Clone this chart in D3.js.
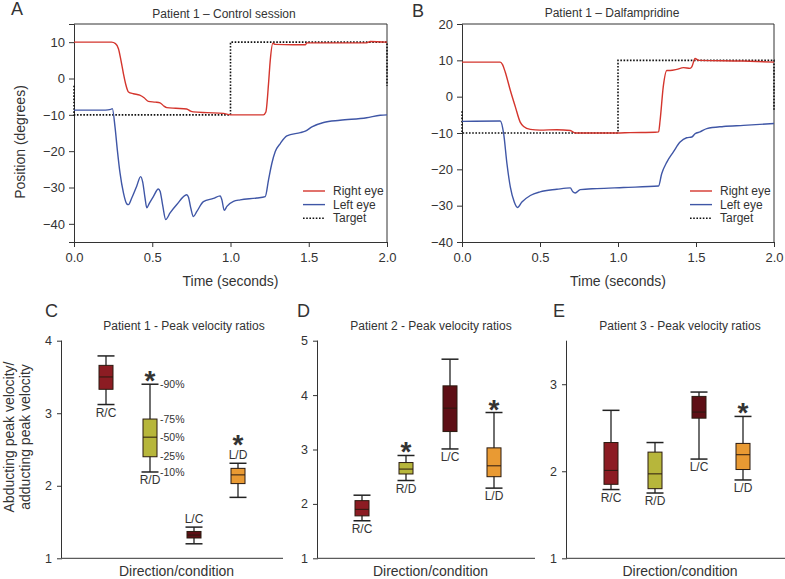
<!DOCTYPE html>
<html>
<head>
<meta charset="utf-8">
<script src="https://cdn.jsdelivr.net/npm/d3@7"></script>
<style>
  body { margin: 0; background: #fff; }
  svg { display: block; }
  text { font-family: "Liberation Sans", Arial, sans-serif; fill: #333; }
</style>
</head>
<body>
<svg id="chart" width="785" height="579"></svg>
<script>
// ---------------- DATA ----------------
// Panel A: Patient 1 – Control session  [time (s), position (deg)]
const ctrlRight = [[0,10],[0.24,10],[0.265,9.6],[0.284,8.2],[0.30,5],[0.316,1.3],[0.33,-1.5],[0.348,-3.7],[0.38,-4.2],[0.42,-4.6],[0.448,-5.3],[0.475,-6.3],[0.52,-6.5],[0.55,-6.7],[0.575,-7.6],[0.593,-8],[0.65,-8.2],[0.72,-8.4],[0.745,-9],[0.763,-9.2],[0.85,-9.4],[0.955,-9.6],[1.0,-10],[1.1,-10],[1.21,-10],[1.226,-9.2],[1.243,-1.4],[1.254,5],[1.271,9.7],[1.286,9.4],[1.40,9.3],[1.478,9.3],[1.488,9.8],[1.7,9.8],[1.87,9.8],[1.893,10.2],[2.0,10]];
const ctrlLeft = [[0,-8.7],[0.2,-8.7],[0.235,-8.5],[0.245,-8.3],[0.262,-13.3],[0.277,-19.7],[0.294,-26],[0.316,-31.5],[0.337,-34.5],[0.348,-34.7],[0.369,-32.9],[0.40,-29.7],[0.426,-27],[0.439,-28.5],[0.454,-32.9],[0.465,-35.6],[0.482,-34.3],[0.507,-32.5],[0.539,-30.4],[0.55,-31],[0.567,-35],[0.586,-38.8],[0.614,-37],[0.657,-34.7],[0.72,-32],[0.731,-32.6],[0.746,-35.6],[0.763,-38],[0.785,-36.6],[0.827,-33.9],[0.891,-33],[0.934,-32.3],[0.945,-33.4],[0.96,-36.3],[0.977,-35.2],[1.019,-33.8],[1.062,-33.4],[1.168,-32.9],[1.222,-32.5],[1.243,-27.9],[1.264,-23.4],[1.286,-20.1],[1.318,-17.9],[1.36,-15.8],[1.446,-14.9],[1.478,-14.5],[1.52,-13.3],[1.595,-12.1],[1.7,-11.5],[1.87,-10.8],[1.957,-10.1],[2.0,-10]];
const ctrlTarget = [[0,-2],[0,-10],[1,-10],[1,10],[2,10],[2,-2]];

// Panel B: Patient 1 – Dalfampridine
const dalfRight = [[0,9.5],[0.245,9.5],[0.26,8.8],[0.277,6.8],[0.31,1.7],[0.342,-2.8],[0.373,-7],[0.395,-8.2],[0.438,-9],[0.5,-9.2],[0.608,-9.1],[0.694,-9.3],[0.726,-10],[0.822,-10],[0.99,-10],[1.078,-9.9],[1.238,-9.8],[1.26,-9.7],[1.27,-6.5],[1.29,2.7],[1.313,7.2],[1.334,7.2],[1.377,7.5],[1.42,8],[1.462,7.8],[1.473,8.2],[1.494,10.5],[1.516,10],[1.8,9.8],[2.0,9.5]];
const dalfLeft = [[0,-6.8],[0.245,-6.7],[0.267,-10.2],[0.288,-18.4],[0.31,-24.9],[0.335,-29],[0.356,-30.5],[0.384,-29],[0.438,-27.2],[0.5,-26.2],[0.608,-25.5],[0.694,-25.1],[0.711,-26.2],[0.726,-26.5],[0.758,-25.6],[0.864,-25.3],[1.035,-25],[1.26,-24.6],[1.28,-21.2],[1.313,-18],[1.355,-15.2],[1.398,-12.5],[1.44,-11.3],[1.473,-11.1],[1.494,-10.2],[1.526,-9.7],[1.569,-8.8],[1.676,-8.2],[1.804,-7.9],[2.0,-7.4]];
const dalfTarget = [[0,-4],[0,-10],[1,-10],[1,10],[2,10],[2,-4]];

const timeTicks = [0, 0.5, 1.0, 1.5, 2.0];
const ctrlPosTicks = [-40, -30, -20, -10, 0, 10];
const dalfPosTicks = [-40, -30, -20, -10, 0, 10, 20];
const legendLabels = ["Right eye", "Left eye", "Target"];

// Box plots: categories and [p10, p25, p50, p75, p90]
const boxCategories = ["R/C", "R/D", "L/C", "L/D"];
const p1Boxes = [[3.12,3.33,3.50,3.66,3.79],[2.19,2.40,2.67,2.92,3.40],[1.20,1.28,1.32,1.37,1.43],[1.84,2.03,2.15,2.24,2.31]];
const p2Boxes = [[1.69,1.78,1.90,2.06,2.16],[2.43,2.55,2.64,2.76,2.89],[3.01,3.33,3.76,4.17,4.66],[2.29,2.50,2.70,3.03,3.68]];
const p3Boxes = [[1.79,1.85,2.01,2.33,2.70],[1.75,1.80,1.97,2.22,2.33],[2.14,2.61,2.68,2.86,2.91],[1.90,2.02,2.19,2.32,2.63]];
const p1Stars = [false, true, false, true];
const p2Stars = [false, true, false, true];
const p3Stars = [false, false, false, true];
const p1LabelSide = ["below","below","above","above"];
const p2LabelSide = ["below","below","below","below"];
const p3LabelSide = ["below","below","below","below"];
const p1Ticks = [1, 2, 3, 4];
const p2Ticks = [1, 2, 3, 4, 5];
const p3Ticks = [1, 2, 3];
const percentileLabels = ["-10%", "-25%", "-50%", "-75%", "-90%"];
const boxColors = {"R/C": "#8c1c23", "R/D": "#b7b63b", "L/C": "#5e0f15", "L/D": "#e99a33"};

// ---------------- DRAWING ----------------
const svg = d3.select("#chart");
const ink = "#333";
const redLine = "#d4352d", blueLine = "#3f56a6";

function linePanel(o) {
  const g = svg.append("g");
  const x = d3.scaleLinear().domain([0, 2]).range([o.x0, o.x1]);
  const y = d3.scaleLinear().domain(o.yDomain).range([o.y1, o.y0]);
  g.append("line").attr("x1", o.x0).attr("x2", o.x1).attr("y1", o.y0).attr("y2", o.y0).attr("stroke", ink).attr("stroke-width", 1);
  g.append("line").attr("x1", o.x1).attr("x2", o.x1).attr("y1", o.y0).attr("y2", o.y1).attr("stroke", ink).attr("stroke-width", 1);
  const xa = g.append("g").attr("transform", `translate(0,${o.y1})`)
    .call(d3.axisBottom(x).tickValues(timeTicks).tickFormat(d3.format(".1f")).tickSize(5).tickPadding(6));
  const ya = g.append("g").attr("transform", `translate(${o.x0},0)`)
    .call(d3.axisLeft(y).tickValues(o.yTicks).tickSize(5).tickPadding(4));
  [xa, ya].forEach(a => {
    a.select(".domain").attr("stroke", ink);
    a.selectAll(".tick line").attr("stroke", ink);
    a.selectAll("text").attr("font-size", 13).attr("fill", ink).style("font-family", "Liberation Sans, Arial, sans-serif");
  });
  const line = d3.line().x(d => x(d[0])).y(d => y(d[1]));
  const smooth = d3.line().x(d => x(d[0])).y(d => y(d[1])).curve(d3.curveMonotoneX);
  g.append("path").datum(o.target).attr("d", line).attr("fill", "none").attr("stroke", "#111").attr("stroke-width", 1.6).attr("stroke-dasharray", "1.6,1.6");
  g.append("path").datum(o.right).attr("d", smooth).attr("fill", "none").attr("stroke", redLine).attr("stroke-width", 1.4);
  g.append("path").datum(o.left).attr("d", smooth).attr("fill", "none").attr("stroke", blueLine).attr("stroke-width", 1.4);
  const styles = [{c: redLine, d: null}, {c: blueLine, d: null}, {c: "#111", d: "1.6,1.6"}];
  legendLabels.forEach((lab, i) => {
    const ly = 191 + i * 13.6;
    const ln = g.append("line").attr("x1", o.x1 - 84).attr("x2", o.x1 - 62).attr("y1", ly).attr("y2", ly)
      .attr("stroke", styles[i].c).attr("stroke-width", 1.4);
    if (styles[i].d) ln.attr("stroke-dasharray", styles[i].d).attr("stroke-width", 1.6);
    g.append("text").attr("x", o.x1 - 54).attr("y", ly).attr("dy", "0.35em").attr("font-size", 12).text(lab);
  });
  g.append("text").attr("x", o.titleX).attr("y", o.titleY).attr("text-anchor", "middle").attr("font-size", 12).text(o.title);
  g.append("text").attr("x", (o.x0 + o.x1) / 2).attr("y", 286).attr("text-anchor", "middle").attr("font-size", 14).text("Time (seconds)");
  g.append("text").attr("x", o.letterX).attr("y", o.letterY).attr("font-size", 18).text(o.letter);
  if (o.ylabel) {
    g.append("text").attr("transform", `translate(25,142) rotate(-90)`).attr("text-anchor", "middle").attr("font-size", 14).text(o.ylabel);
  }
}

linePanel({x0: 74, x1: 387, y0: 24, y1: 242, yDomain: [-45, 15], yTicks: ctrlPosTicks,
  right: ctrlRight, left: ctrlLeft, target: ctrlTarget,
  title: "Patient 1 – Control session", titleX: 224, titleY: 18, letter: "A", letterX: 11, letterY: 15,
  ylabel: "Position (degrees)"});
linePanel({x0: 462, x1: 774, y0: 24, y1: 242, yDomain: [-40, 20], yTicks: dalfPosTicks,
  right: dalfRight, left: dalfLeft, target: dalfTarget,
  title: "Patient 1 – Dalfampridine", titleX: 612, titleY: 17, letter: "B", letterX: 412, letterY: 17});

function boxPanel(o) {
  const g = svg.append("g");
  const yTop = 340.7, yBot = 558.3;
  const y = d3.scaleLinear().domain(o.yDomain).range([yBot, yTop]);
  const x = d3.scalePoint().domain(boxCategories).range([o.x0 + 44, o.x0 + 176]);
  const ya = g.append("g").attr("transform", `translate(${o.x0},0)`)
    .call(d3.axisLeft(y).tickValues(o.ticks).tickFormat(d3.format("d")).tickSize(5).tickPadding(5));
  ya.select(".domain").attr("stroke", ink).attr("d", `M-0.5,${yBot}V${yTop}`);
  ya.selectAll(".tick line").attr("stroke", ink);
  ya.selectAll("text").attr("font-size", 12.5).attr("fill", ink).style("font-family", "Liberation Sans, Arial, sans-serif");
  g.append("line").attr("x1", o.x0).attr("x2", o.x1).attr("y1", yBot).attr("y2", yBot).attr("stroke", ink);
  const bw = 14, cw = 17;
  boxCategories.forEach((cat, i) => {
    const q = o.boxes[i];
    const cx = x(cat);
    g.append("line").attr("x1", cx).attr("x2", cx).attr("y1", y(q[0])).attr("y2", y(q[4])).attr("stroke", "#222").attr("stroke-width", 1.3);
    [q[0], q[4]].forEach(v => g.append("line").attr("x1", cx - cw / 2).attr("x2", cx + cw / 2).attr("y1", y(v)).attr("y2", y(v)).attr("stroke", "#222").attr("stroke-width", 1.5));
    g.append("rect").attr("x", cx - bw / 2).attr("width", bw).attr("y", y(q[3])).attr("height", y(q[1]) - y(q[3]))
      .attr("fill", boxColors[cat]).attr("stroke", "#2a1a10").attr("stroke-width", 1);
    g.append("line").attr("x1", cx - bw / 2).attr("x2", cx + bw / 2).attr("y1", y(q[2])).attr("y2", y(q[2])).attr("stroke", "#2a1a10").attr("stroke-width", 1);
    let ly;
    if (o.labelSide[i] === "below") ly = y(q[0]) + 12; else ly = y(q[4]) - 4;
    g.append("text").attr("x", cx).attr("y", ly).attr("text-anchor", "middle").attr("font-size", 12).text(cat);
    if (o.stars[i]) {
      const sc = o.labelSide[i] === "above" ? ly - 21 : y(q[4]) - 10;
      g.append("text").attr("x", cx).attr("y", sc + 16).attr("text-anchor", "middle").attr("font-size", 28).attr("font-weight", "bold").attr("fill", "#222").text("*");
    }
    if (o.percent === i) {
      q.forEach((v, k) => g.append("text").attr("x", cx + 10).attr("y", y(v)).attr("dy", "0.35em").attr("font-size", 10.5).text(percentileLabels[k]));
    }
  });
  g.append("text").attr("x", o.titleX).attr("y", 330).attr("text-anchor", "middle").attr("font-size", 12).text(o.title);
  g.append("text").attr("x", (o.x0 + o.x1) / 2 + 4).attr("y", 576).attr("text-anchor", "middle").attr("font-size", 14).text("Direction/condition");
  g.append("text").attr("x", o.letterX).attr("y", 317).attr("font-size", 18).text(o.letter);
  if (o.ylabel) {
    o.ylabel.forEach((t, k) => g.append("text").attr("transform", `translate(${14 + k * 16},437) rotate(-90)`).attr("text-anchor", "middle").attr("font-size", 14).text(t));
  }
}

boxPanel({x0: 62, x1: 283, yDomain: [1, 4], ticks: p1Ticks, boxes: p1Boxes, stars: p1Stars, labelSide: p1LabelSide, percent: 1,
  title: "Patient 1 - Peak velocity ratios", titleX: 184, letter: "C", letterX: 45,
  ylabel: ["Abducting peak velocity/", "adducting peak velocity"]});
boxPanel({x0: 318, x1: 535, yDomain: [1, 5], ticks: p2Ticks, boxes: p2Boxes, stars: p2Stars, labelSide: p2LabelSide, percent: -1,
  title: "Patient 2 - Peak velocity ratios", titleX: 431, letter: "D", letterX: 297});
boxPanel({x0: 567, x1: 785, yDomain: [1, 3.5], ticks: p3Ticks, boxes: p3Boxes, stars: p3Stars, labelSide: p3LabelSide, percent: -1,
  title: "Patient 3 - Peak velocity ratios", titleX: 680, letter: "E", letterX: 553});
</script>
</body>
</html>
